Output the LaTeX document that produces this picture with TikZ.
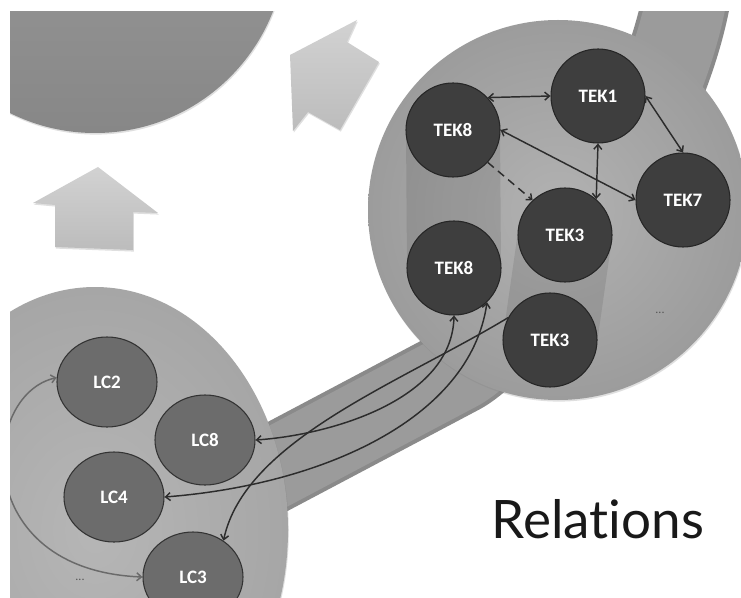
\documentclass[tikz,border=0pt]{standalone}
\usepackage{fontspec}
\setmainfont{Carlito}
\newfontfamily\relfont{Lato}[Ligatures=NoCommon]
\usetikzlibrary{arrows.meta,shapes.geometric,shadows}

\definecolor{domaintop}{HTML}{A2A2A2}
\definecolor{domainbot}{HTML}{878787}
\definecolor{arrowtop}{HTML}{D2D2D2}
\definecolor{arrowbot}{HTML}{BCBCBC}
\definecolor{bandgray}{HTML}{9B9B9B}
\definecolor{bandedge}{HTML}{8A8A8A}
\definecolor{tekin}{HTML}{B2B2B2}
\definecolor{tekout}{HTML}{9C9C9C}
\definecolor{lcin}{HTML}{B6B6B6}
\definecolor{lcout}{HTML}{A6A6A6}
\definecolor{tekfill}{HTML}{3E3E3E}
\definecolor{lcfill}{HTML}{6C6C6C}
\definecolor{linkgray}{HTML}{2C2C2C}
\definecolor{looplink}{HTML}{6A6A6A}
\definecolor{dotgray}{HTML}{555555}

\begin{document}
\begin{tikzpicture}[x=0.75pt,y=-0.75pt,
  softshadow/.style={drop shadow={opacity=0.25,shadow xshift=0.6pt,shadow yshift=-1.2pt}},
  bigarrow/.style={top color=arrowtop,bottom color=arrowbot,softshadow},
  teknode/.style={circle,draw=black!85,line width=0.8pt,fill=tekfill,
    minimum size=70.5pt,inner sep=0pt,text=white,
    font=\fontsize{14.25}{16}\selectfont\bfseries},
  lcnode/.style={ellipse,draw=black!80,line width=0.8pt,fill=lcfill,
    minimum width=75pt,minimum height=67.5pt,inner sep=0pt,text=white,
    font=\fontsize{14.25}{16}\selectfont\bfseries},
  tip/.tip={Straight Barb[length=3.5pt,width=6pt]},
  link/.style={draw=linkgray,line width=1.1pt,tip-tip},
  onelink/.style={draw=linkgray,line width=1.1pt,tip-},
  dashlink/.style={draw=linkgray,line width=1.1pt,dashed,dash pattern=on 6pt off 4pt,-tip},
  innerlink/.style={draw=looplink,line width=1.1pt,tip-tip},
  dots/.style={text=dotgray,font=\fontsize{9}{10}\selectfont},
  grouping/.style={line width=70.5pt,line cap=round,draw=black,draw opacity=0.09}
]
\useasboundingbox (0,0) rectangle (741,598);
\fill[white] (0,0) rectangle (741,598);

% node centres
\coordinate (p8a) at (453,130);
\coordinate (p1)  at (598,96);
\coordinate (p7)  at (683,200);
\coordinate (p3a) at (565,235);
\coordinate (p8b) at (454,268);
\coordinate (p3b) at (550,340);

\begin{scope}
\clip (10,12) rectangle (741,598);

% upper domain
\path[top color=domaintop,bottom color=domainbot,softshadow] (95,-58) circle[radius=191];

% transition arrows
\path[bigarrow] (98,167) -- (158,213) -- (133,212) -- (133,250) -- (55,247) -- (55,205) -- (33,203) -- cycle;
\path[bigarrow] (290,55) -- (357,20) -- (347,42) -- (379,62) -- (340,130) -- (308,112) -- (293,131) -- cycle;

% band running through both domains
\draw[bandedge,line width=66] (220,497) -- (458,371) .. controls (511,343) and (662,150) .. (688,-10);
\draw[bandgray,line width=60] (220,497) -- (458,371) .. controls (511,343) and (662,150) .. (688,-10);

% right domain
\path[inner color=tekin,outer color=tekout,softshadow] (558,210) circle[radius=190];
% left domain
\path[inner color=lcin,outer color=lcout,softshadow] (95,530) ellipse[x radius=193,y radius=243];

% groupings
\draw[grouping] (p8a) -- (p8b);
\draw[grouping] (p3a) -- (p3b);

% nodes
\node[teknode] (tek8a) at (p8a) {TEK8};
\node[teknode] (tek1)  at (p1)  {TEK1};
\node[teknode] (tek7)  at (p7)  {TEK7};
\node[teknode] (tek3a) at (p3a) {TEK3};
\node[teknode] (tek8b) at (p8b) {TEK8};
\node[teknode] (tek3b) at (p3b) {TEK3};

\node[lcnode] (lc2) at (107,382) {LC2};
\node[lcnode] (lc8) at (205,440) {LC8};
\node[lcnode] (lc4) at (114,497) {LC4};
\node[lcnode] (lc3) at (193,577) {LC3};

\node[dots] (moretek) at (660,313) {...};
\node[dots] (morelc)  at (80,580)  {...};

% relations inside the right domain
\draw[link] (tek8a.43) -- (tek1.west);
\draw[link] (tek1.east) -- (tek7.north);
\draw[link] (tek8a.east) -- (tek7.west);
\draw[link] (tek3a.49) -- (tek1.south);
\draw[dashlink] (tek8a.-43) -- (tek3a.133);

% relations between the domains
\draw[link] (lc8.east) .. controls (330,435) and (452,400) .. (tek8b.south);
\draw[link] (lc4.east) .. controls (320,485) and (470,420) .. (tek8b.-46);
\draw[onelink] (lc3.50) .. controls (245,440) and (400,383) .. (tek3b.152);

% relation inside the left domain
\draw[innerlink] (lc2.175) .. controls (-20,395) and (-30,570) .. (lc3.west);
\end{scope}

\node[anchor=base,text=black!90,font=\relfont\fontsize{39.75}{44}\selectfont] (title) at (598,538) {Relations};
\end{tikzpicture}
\end{document}
